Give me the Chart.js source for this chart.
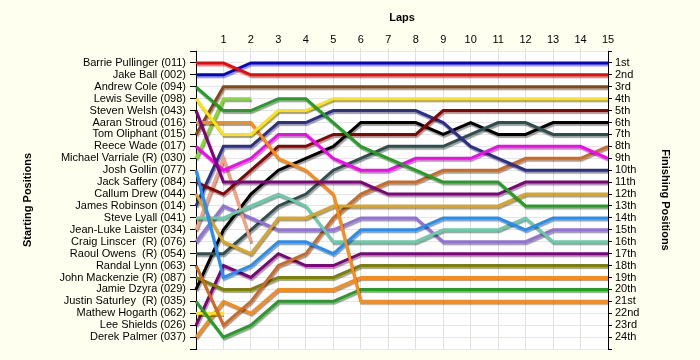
<!DOCTYPE html>
<html><head><meta charset="utf-8">
<script src="https://cdn.jsdelivr.net/npm/chart.js@4.4.1/dist/chart.umd.min.js"></script>
<style>html,body{margin:0;padding:0;background:#FFFFF0;}#wrap{width:700px;height:360px;}</style>
</head><body><div id="wrap"><canvas id="c" width="700" height="360"></canvas></div>
<script>
const laps = [0,1,2,3,4,5,6,7,8,9,10,11,12,13,14,15];
const drivers = ['Barrie Pullinger (011)','Jake Ball (002)','Andrew Cole (094)','Lewis Seville (098)','Steven Welsh (043)','Aaran Stroud (016)','Tom Oliphant (015)','Reece Wade (017)','Michael Varriale (R) (030)','Josh Gollin (077)','Jack Saffery (084)','Callum Drew (044)','James Robinson (014)','Steve Lyall (041)','Jean-Luke Laister (034)','Craig Linscer  (R) (076)','Raoul Owens  (R) (054)','Randal Lynn (063)','John Mackenzie (R) (087)','Jamie Dzyra (029)','Justin Saturley  (R) (035)','Mathew Hogarth (062)','Lee Shields (026)','Derek Palmer (037)'];
const finishLabels = ['1st','2nd','3rd','4th','5th','6th','7th','8th','9th','10th','11th','12th','13th','14th','15th','16th','17th','18th','19th','20th','21st','22nd','23rd','24th'];

const barriePullinger = [1,1,2,2,2,2,2,2,2,2,2,2,2,2,2,2];
const jakeBall        = [2,2,1,1,1,1,1,1,1,1,1,1,1,1,1,1];
const andrewCole      = [3,5,5,4,4,6,8,9,10,11,11,11,13,13,13,13];
const lewisSeville    = [4,7,7,5,5,4,4,4,4,4,4,4,4,4,4,4];
const stevenWelsh     = [5,11,11,11,11,11,11,12,12,12,12,12,11,11,11,11];
const aaranStroud     = [6,6,6,9,10,12,21,21,21,21,21,21,21,21,21,21];
const tomOliphant     = [7,3,3,3,3,3,3,3,3,3,3,3,3,3,3,3];
const reeceWade       = [8,10,9,7,7,9,10,10,9,9,9,8,8,8,8,9];
const michaelVarriale = [9,4,4];
const joshGollin      = [10,19,18,16,16,17,15,15,15,14,14,14,15,14,14,14];
const jackSaffery     = [11,12,10,8,8,7,7,7,7,5,5,5,5,5,5,5];
const callumDrew      = [12,16,17,14,14,13,13,13,13,13,13,13,12,12,12,12];
const jamesRobinson   = [13,8,8,6,6,5,5,5,5,6,8,9,10,10,10,10];
const steveLyall      = [14,14,13,12,13,16,16,16,16,15,15,15,14,16,16,16];
const jeanLukeLaister = [15,9,16];
const craigLinscer    = [16,13,14,15,15,15,14,14,14,16,16,16,16,15,15,15];
const raoulOwens      = [17,17,15,13,12,10,9,8,8,8,7,6,6,7,7,7];
const randalLynn      = [18,23,21,18,17,14,12,11,11,10,10,10,9,9,9,8];
const johnMackenzie   = [19,20,20,19,19,19,18,18,18,18,18,18,18,18,18,18];
const jamieDzyra      = [20,15,12,10,9,8,6,6,6,7,6,7,7,6,6,6];
const justinSaturley  = [21,24,23,21,21,21,20,20,20,20,20,20,20,20,20,20];
const mathewHogarth   = [22,22];
const leeShields      = [23,18,19,17,18,18,17,17,17,17,17,17,17,17,17,17];
const derekPalmer     = [24,21,22,20,20,20,19,19,19,19,19,19,19,19,19,19];

const series = [barriePullinger,jakeBall,andrewCole,lewisSeville,stevenWelsh,aaranStroud,tomOliphant,reeceWade,michaelVarriale,joshGollin,jackSaffery,callumDrew,jamesRobinson,steveLyall,jeanLukeLaister,craigLinscer,raoulOwens,randalLynn,johnMackenzie,jamieDzyra,justinSaturley,mathewHogarth,leeShields,derekPalmer];
const colors = ['#FF0000','#0000DD','#22A022','#FFE600','#800080','#FF8C10','#8B4513','#FF00FF','#80E020','#2090FF','#8B0000','#DAA520','#2E2E8C','#66CDAA','#F8A080','#9370DB','#2F4F4F','#D2691E','#808000','#000000','#22A022','#FFE600','#800080','#FF8C10'];

const bgPlugin = {
  id:'bg',
  beforeDraw(chart){
    const {ctx, chartArea:a} = chart;
    ctx.save(); ctx.fillStyle='#FFFFFF'; ctx.fillRect(a.left,a.top,a.right-a.left,a.bottom-a.top); ctx.restore();
  }
};
const shadowPlugin = {
  id:'shadow',
  beforeDatasetsDraw(chart){ const c=chart.ctx; c.save(); c.shadowColor='rgba(0,0,0,0.38)'; c.shadowOffsetX=1; c.shadowOffsetY=2; c.shadowBlur=1; },
  afterDatasetsDraw(chart){ chart.ctx.restore(); }
};

const datasets = series.map((arr,i)=>({
  label: drivers[i],
  data: laps.map(l => ({x:l, y: (arr[l]===undefined? null : arr[l])})),
  borderColor: colors[i],
  backgroundColor: colors[i],
  borderWidth: 3,
  pointRadius: 0,
  pointHoverRadius: 0,
  tension: 0,
  spanGaps: false,
  fill: false,
  clip: false,
  borderCapStyle: 'butt'
}));

const FONT = {family:'"Liberation Sans", Arial, sans-serif', size:11};
const TFONT = {family:'"Liberation Sans", Arial, sans-serif', size:11, weight:'bold'};

new Chart(document.getElementById('c'), {
  type:'line',
  data:{datasets},
  plugins:[bgPlugin, shadowPlugin],
  options:{
    responsive:false, animation:false, devicePixelRatio:1,
    layout:{padding:{left:0,right:0,top:0,bottom:11}},
    plugins:{legend:{display:false}, tooltip:{enabled:false}},
    scales:{
      x:{
        type:'linear', position:'top', min:0, max:15,
        afterFit(s){ s.height = 51; },
        ticks:{stepSize:1, autoSkip:false, maxRotation:0, color:'#000', font:FONT, padding:1,
          callback:(v)=> v===0 ? '' : String(v)},
        grid:{color:'#E0E0E0', tickLength:3, tickColor:'#E0E0E0'},
        border:{display:false},
        title:{display:true, text:'Laps', color:'#000', font:TFONT, padding:{top:11,bottom:0}}
      },
      y:{
        type:'linear', position:'left', min:0, max:25, reverse:true,
        afterFit(s){ s.width = 196; },
        ticks:{stepSize:1, autoSkip:false, color:'#000', font:FONT, padding:4,
          callback:(v)=> (v>=1 && v<=24) ? drivers[v-1] : ''},
        grid:{color:'#E6E6E6', tickLength:6, tickColor:'#000'},
        border:{display:true, color:'#000', width:1},
        title:{display:true, text:'Starting Positions', color:'#000', font:TFONT, padding:{top:21,bottom:0}}
      },
      y2:{
        type:'linear', position:'right', min:0, max:25, reverse:true,
        afterFit(s){ s.width = 92; },
        ticks:{stepSize:1, autoSkip:false, color:'#000', font:FONT, padding:3,
          callback:(v)=> (v>=1 && v<=24) ? finishLabels[v-1] : ''},
        grid:{drawOnChartArea:false, tickLength:4, tickColor:'#000'},
        border:{display:true, color:'#000', width:1},
        title:{display:true, text:'Finishing Positions', color:'#000', font:TFONT, padding:{top:28,bottom:0}}
      }
    }
  }
});
</script></body></html>
